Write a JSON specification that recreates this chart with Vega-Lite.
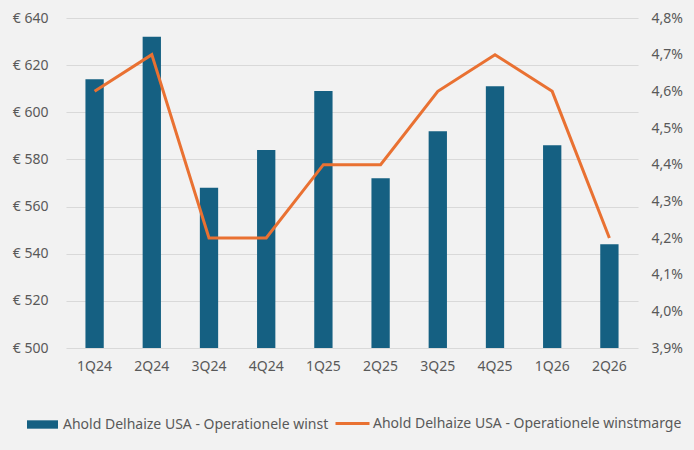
{
  "$schema": "https://vega.github.io/schema/vega-lite/v6.json",
  "width": 572,
  "height": 330,
  "autosize": "none",
  "padding": {"left": 66, "top": 18, "right": 56, "bottom": 102},
  "background": "#f2f2f2",
  "data": {
    "values": [
      {"kwartaal": "1Q24", "winst": 614, "marge": 4.6},
      {"kwartaal": "2Q24", "winst": 632, "marge": 4.7},
      {"kwartaal": "3Q24", "winst": 568, "marge": 4.2},
      {"kwartaal": "4Q24", "winst": 584, "marge": 4.2},
      {"kwartaal": "1Q25", "winst": 609, "marge": 4.4},
      {"kwartaal": "2Q25", "winst": 572, "marge": 4.4},
      {"kwartaal": "3Q25", "winst": 592, "marge": 4.6},
      {"kwartaal": "4Q25", "winst": 611, "marge": 4.7},
      {"kwartaal": "1Q26", "winst": 586, "marge": 4.6},
      {"kwartaal": "2Q26", "winst": 544, "marge": 4.2}
    ]
  },
  "encoding": {
    "x": {
      "field": "kwartaal",
      "type": "nominal",
      "sort": null,
      "title": null,
      "scale": {"paddingInner": 0.68, "paddingOuter": 0.34},
      "axis": {"labelAngle": 0, "ticks": false, "domain": false, "labelPadding": 11}
    }
  },
  "layer": [
    {
      "mark": {"type": "bar", "color": "#156082", "clip": true},
      "encoding": {
        "y": {
          "field": "winst",
          "type": "quantitative",
          "title": null,
          "scale": {"domain": [500, 640], "zero": false, "nice": false},
          "axis": {"values": [500, 520, 540, 560, 580, 600, 620, 640], "labelExpr": "'€ ' + datum.value", "grid": true, "labelPadding": 18}
        },
        "color": {
          "datum": "Ahold Delhaize USA - Operationele winst",
          "scale": {"range": ["#156082"]},
          "legend": {"title": null, "orient": "none", "legendX": -40, "legendY": 390, "symbolType": "M-1,-0.27H1V0.27H-1Z", "symbolSize": 961, "symbolOpacity": 1, "labelOffset": 4}
        }
      }
    },
    {
      "mark": {"type": "line", "color": "#e97132", "strokeWidth": 3},
      "encoding": {
        "y": {
          "field": "marge",
          "type": "quantitative",
          "title": null,
          "scale": {"domain": [3.9, 4.8], "zero": false, "nice": false},
          "axis": {"orient": "right", "values": [3.9, 4.0, 4.1, 4.2, 4.3, 4.4, 4.5, 4.6, 4.7, 4.8], "labelExpr": "replace(format(datum.value, '.1f'), '.', ',') + '%'", "grid": false, "labelPadding": 13}
        },
        "stroke": {
          "datum": "Ahold Delhaize USA - Operationele winstmarge",
          "scale": {"range": ["#e97132"]},
          "legend": {"title": null, "orient": "none", "legendX": 268, "legendY": 387, "symbolType": "stroke", "symbolStrokeWidth": 3, "symbolSize": 1156, "labelOffset": 2}
        }
      }
    }
  ],
  "resolve": {"scale": {"y": "independent"}},
  "config": {
    "view": {"stroke": null},
    "font": "Noto Sans",
    "axis": {"labelColor": "#595959", "labelFontSize": 14, "gridColor": "#d9d9d9", "gridWidth": 1, "ticks": false, "domain": false},
    "legend": {"labelColor": "#595959", "labelFontSize": 14, "labelLimit": 0, "padding": 0}
  }
}
